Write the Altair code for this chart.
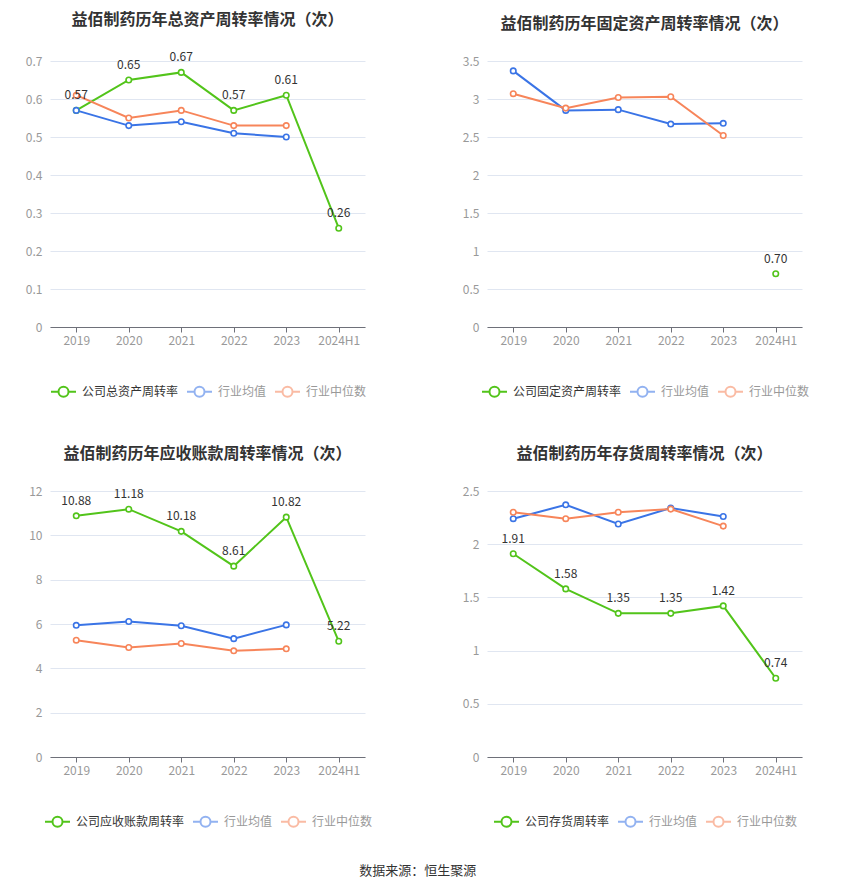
import altair as alt
import pandas as pd

years = ["2019", "2020", "2021", "2022", "2023", "2024H1"]

titles = [
    "益佰制药历年总资产周转率情况（次）",
    "益佰制药历年固定资产周转率情况（次）",
    "益佰制药历年应收账款周转率情况（次）",
    "益佰制药历年存货周转率情况（次）",
]
company_names = ["公司总资产周转率", "公司固定资产周转率", "公司应收账款周转率", "公司存货周转率"]
avg_name = "行业均值"
med_name = "行业中位数"

total_company = [0.57, 0.65, 0.67, 0.57, 0.61, 0.26]
total_avg = [0.57, 0.53, 0.54, 0.51, 0.50, None]
total_median = [0.61, 0.55, 0.57, 0.53, 0.53, None]

fixed_company = [None, None, None, None, None, 0.70]
fixed_avg = [3.37, 2.85, 2.86, 2.67, 2.68, None]
fixed_median = [3.07, 2.88, 3.02, 3.03, 2.52, None]

recv_company = [10.88, 11.18, 10.18, 8.61, 10.82, 5.22]
recv_avg = [5.94, 6.11, 5.92, 5.34, 5.96, None]
recv_median = [5.27, 4.94, 5.12, 4.79, 4.88, None]

inv_company = [1.91, 1.58, 1.35, 1.35, 1.42, 0.74]
inv_avg = [2.24, 2.37, 2.19, 2.34, 2.26, None]
inv_median = [2.30, 2.24, 2.30, 2.33, 2.17, None]

y_ticks = [
    [0, 0.1, 0.2, 0.3, 0.4, 0.5, 0.6, 0.7],
    [0, 0.5, 1, 1.5, 2, 2.5, 3, 3.5],
    [0, 2, 4, 6, 8, 10, 12],
    [0, 0.5, 1, 1.5, 2, 2.5],
]

GREEN = "#52c41a"
BLUE = "#3a74e6"
ORANGE = "#f7855a"
FONT = "Noto Sans CJK SC"
LEGEND_PATH = "M-1,0L-0.4,0M0.4,0L1,0M-0.4,0A0.4,0.4,0,1,1,0.4,0A0.4,0.4,0,1,1,-0.4,0"

W, H = 315, 266


def panel(title, cname, comp, avg, med, ticks):
    rows = []
    for name, vals in [(cname, comp), (avg_name, avg), (med_name, med)]:
        for yr, v in zip(years, vals):
            if v is not None:
                rows.append({"year": yr, "series": name, "value": v})
    df = pd.DataFrame(rows)

    legend_w = 315 + 12 * (len(cname) - 8)

    x = alt.X(
        "year:N",
        sort=years,
        scale=alt.Scale(domain=years, type="point", padding=0.5),
        axis=alt.Axis(
            title=None, labelAngle=0, domainColor="#6e7079", tickColor="#6e7079",
            tickSize=5, labelColor="#999999", labelFontSize=12, labelPadding=3,
            grid=False, labelFont=FONT,
        ),
    )
    y = alt.Y(
        "value:Q",
        scale=alt.Scale(domain=[0, ticks[-1]], nice=False),
        axis=alt.Axis(
            title=None, values=ticks, domain=False, ticks=False, labelColor="#999999",
            labelFontSize=12, labelPadding=8, gridColor="#e0e6f1", format="~g",
            labelFont=FONT,
        ),
    )
    color = alt.Color(
        "series:N",
        scale=alt.Scale(domain=[cname, avg_name, med_name], range=[GREEN, BLUE, ORANGE]),
        legend=alt.Legend(
            title=None, orient="none", direction="horizontal",
            legendX=(W - legend_w) / 2, legendY=317,
            symbolType=LEGEND_PATH, symbolSize=625, symbolStrokeWidth=2,
            labelFontSize=12, labelFont=FONT,
            labelColor=alt.ExprRef(expr="datum.index == 0 ? '#333333' : '#999999'"),
            symbolOpacity=alt.ExprRef(expr="datum.index == 0 ? 1 : 0.55"),
            columnPadding=4, labelOffset=5, padding=0,
        ),
    )
    base = alt.Chart(df)
    line = base.mark_line(strokeWidth=2).encode(x=x, y=y, color=color)
    pts = base.mark_point(filled=False, fill="white", size=30, strokeWidth=1.6, opacity=1).encode(
        x=x, y=y, color=color
    )
    txt = base.transform_filter(alt.datum.series == cname).mark_text(
        dy=-15, fontSize=12, color="#333333", font=FONT
    ).encode(x=x, y=y, text=alt.Text("value:Q", format=".2f"))
    return alt.layer(line, pts, txt).properties(
        width=W,
        height=H,
        title=alt.Title(title, fontSize=16, fontWeight="bold", color="#333333",
                        font=FONT, offset=23, anchor="middle"),
    )


p1 = panel(titles[0], company_names[0], total_company, total_avg, total_median, y_ticks[0])
p2 = panel(titles[1], company_names[1], fixed_company, fixed_avg, fixed_median, y_ticks[1])
p3 = panel(titles[2], company_names[2], recv_company, recv_avg, recv_median, y_ticks[2])
p4 = panel(titles[3], company_names[3], inv_company, inv_avg, inv_median, y_ticks[3])

chart = alt.concat(
    p1, p2, p3, p4, columns=2, spacing={"column": 122, "row": 164}, bounds="flush"
).resolve_scale(color="independent").resolve_legend(color="independent").properties(
    title=alt.Title("数据来源：恒生聚源", orient="bottom", anchor="middle", fontSize=13,
                    fontWeight="normal", color="#333333", font=FONT, offset=34),
    padding={"left": 17, "top": 4, "right": 5, "bottom": 5},
).configure(font=FONT).configure_view(stroke=None, strokeWidth=0)

chart.save("out.html", embed_options={"renderer": "svg", "actions": False})
